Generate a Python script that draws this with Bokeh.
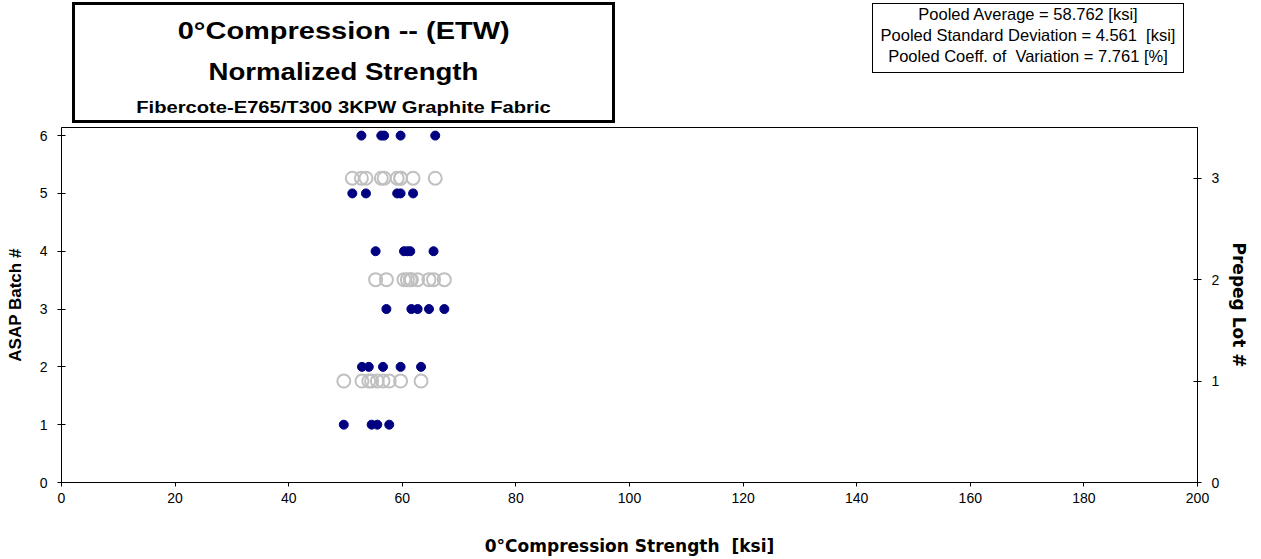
from bokeh.plotting import figure
from bokeh.models import Range1d, LinearAxis, FixedTicker, Div
from bokeh.layouts import column
from bokeh.embed import file_html
from bokeh.resources import INLINE

# ---- data ----
batch1 = [49.7, 54.6, 55.6, 57.7]
batch2 = [52.9, 54.1, 56.6, 59.7, 63.3]
batch3 = [57.2, 61.6, 62.7, 64.7, 67.4]
batch4 = [55.3, 60.3, 60.9, 61.4, 65.5]
batch5 = [51.2, 53.6, 59.1, 59.7, 61.9]
batch6 = [52.8, 56.3, 56.8, 59.7, 65.8]
batches = [batch1, batch2, batch3, batch4, batch5, batch6]
batch_ids = [1, 2, 3, 4, 5, 6]
lot_ids = [1, 2, 3]
lot_members = [[0, 1], [2, 3], [4, 5]]  # batch indices in each prepreg lot

x_ticks = [0, 20, 40, 60, 80, 100, 120, 140, 160, 180, 200]
left_ticks = [0, 1, 2, 3, 4, 5, 6]
right_ticks = [0, 1, 2, 3]

title1 = "0°Compression -- (ETW)"
title2 = "Normalized Strength"
title3 = "Fibercote-E765/T300 3KPW Graphite Fabric"
stats = ["Pooled Average = 58.762 [ksi]",
         "Pooled Standard Deviation = 4.561 &nbsp;[ksi]",
         "Pooled Coeff. of &nbsp;Variation = 7.761 [%]"]
x_label = "0°Compression Strength \u00a0[ksi]"

bx, by = [], []
for bid, vals in zip(batch_ids, batches):
    bx += vals
    by += [bid] * len(vals)
lx, ly = [], []
for lid, mem in zip(lot_ids, lot_members):
    for m in mem:
        lx += batches[m]
        ly += [lid] * len(batches[m])

FONT = "Liberation Sans"
WIDE = "DejaVu Sans"
W, H = 1261, 559
HEAD = 124

# ---------------- header (title box + stats box) ----------------
def line(text, top, lh, size, scale, weight, left, width):
    return (f'<div style="position:absolute;left:{left}px;top:{top}px;width:{width}px;'
            f'height:{lh}px;line-height:{lh}px;text-align:center;white-space:nowrap;">'
            f'<span style="display:inline-block;transform:scaleX({scale});transform-origin:50% 50%;'
            f'font-family:\'{FONT}\';font-size:{size}px;font-weight:{weight};color:#000;">{text}</span></div>')

html = [f'<div style="position:relative;width:{W}px;height:{HEAD}px;background:#fff;overflow:visible;">']
html.append('<div style="position:absolute;left:72px;top:2px;width:543px;height:121px;'
            'box-sizing:border-box;border:3px solid #000;"></div>')
html.append(line(title1, 16, 30, 23, 1.26, "bold", 72, 543))
html.append(line(title2, 57, 30, 23, 1.2, "bold", 72, 543))
html.append(line(title3, 98, 20, 16, 1.26, "bold", 72, 543))
html.append('<div style="position:absolute;left:872px;top:3px;width:312px;height:70px;'
            'box-sizing:border-box;border:1px solid #000;"></div>')
for i, t in enumerate(stats):
    html.append(line(t, 4 + 21 * i, 20, 16.5, 1.0, "normal", 872, 312))
html.append('</div>')
header = Div(text="".join(html), width=W, height=HEAD, margin=0)

# ---------------- plot ----------------
p = figure(width=W, height=H - HEAD, output_backend="svg", toolbar_location=None,
           x_range=Range1d(0, 200), y_range=Range1d(0, 6.14),
           min_border_left=61, min_border_right=64, min_border_top=3, min_border_bottom=77,
           margin=0)
p.extra_y_ranges = {"lot": Range1d(0, 3.5)}
p.xgrid.visible = False
p.ygrid.visible = False
p.outline_line_color = "black"
p.outline_line_width = 1
p.background_fill_color = "white"
p.border_fill_color = "white"

def style_axis(ax):
    ax.axis_line_color = "black"
    ax.major_tick_line_color = "black"
    ax.minor_tick_line_color = None
    ax.major_tick_in = 4
    ax.major_tick_out = 4
    ax.major_label_text_font = FONT
    ax.major_label_text_font_size = "14px"
    ax.major_label_text_color = "black"
    ax.axis_label_text_font = FONT
    ax.axis_label_text_font_size = "17px"
    ax.axis_label_text_font_style = "bold"
    ax.axis_label_text_color = "black"

xa = p.xaxis[0]
xa.ticker = FixedTicker(ticks=x_ticks)
xa.axis_label = x_label
style_axis(xa)
xa.axis_label_text_font = WIDE
xa.major_tick_in = 0
xa.major_label_standoff = 6
xa.axis_label_standoff = 30

ya = p.yaxis[0]
ya.ticker = FixedTicker(ticks=left_ticks)
ya.axis_label = "ASAP Batch #"
style_axis(ya)
ya.major_label_standoff = 10
ya.axis_label_standoff = 12

ra = LinearAxis(y_range_name="lot", ticker=FixedTicker(ticks=right_ticks), axis_label="Prepeg Lot #")
style_axis(ra)
ra.axis_label_text_font = WIDE
ra.major_label_standoff = 10
ra.axis_label_standoff = 7
p.add_layout(ra, "right")

p.scatter(lx, ly, y_range_name="lot", size=13, marker="circle", fill_color=None,
          line_color="#c0c0c0", line_width=2)
p.scatter(bx, by, size=9, marker="circle", fill_color="#000080", line_color="#000080")

layout = column(header, p, spacing=0, margin=0)
open("out.html", "w").write(file_html(layout, INLINE))
